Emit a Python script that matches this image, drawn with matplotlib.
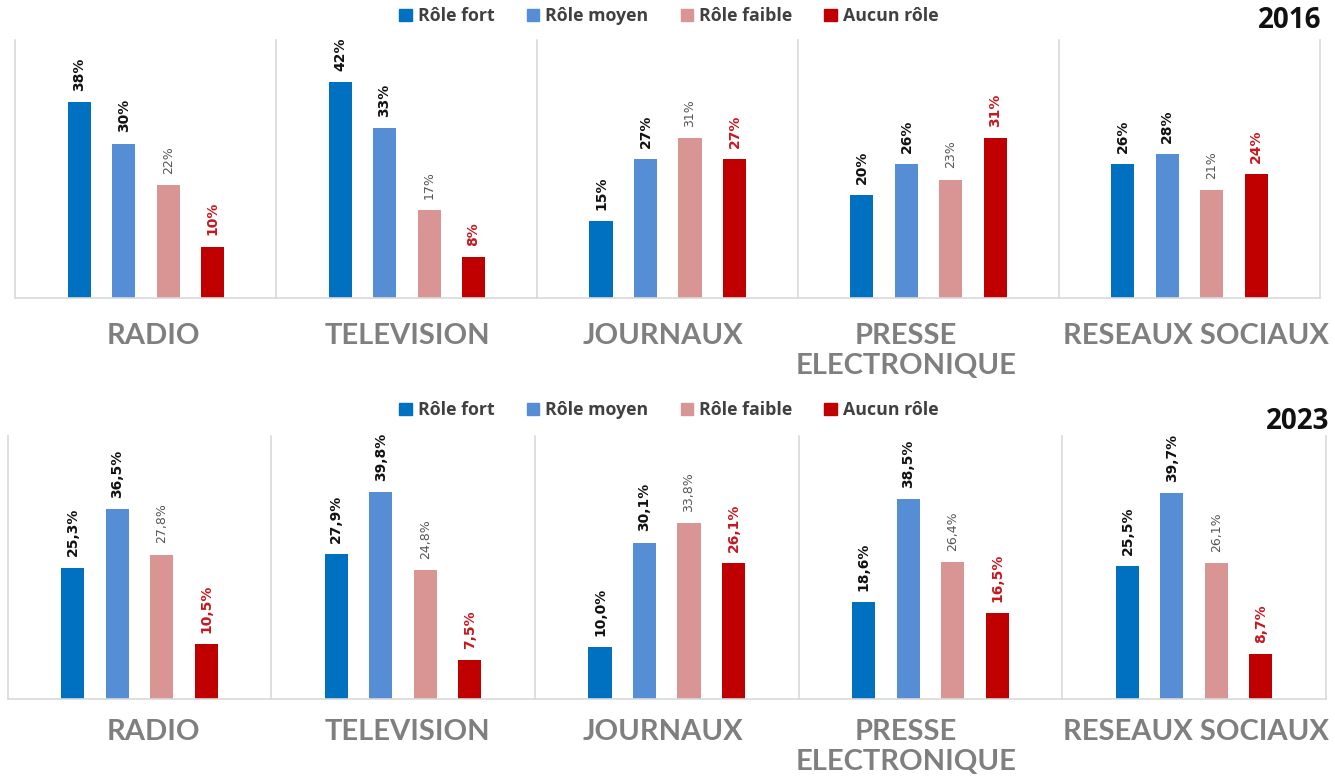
import matplotlib
matplotlib.use("Agg")
import matplotlib.pyplot as plt
from matplotlib import font_manager
from matplotlib.patches import Patch

# Données
categories = ["RADIO", "TELEVISION", "JOURNAUX", "PRESSE\nELECTRONIQUE", "RESEAUX SOCIAUX"]
roles = ["Rôle fort", "Rôle moyen", "Rôle faible", "Aucun rôle"]

fort_2016 = [38, 42, 15, 20, 26]
moyen_2016 = [30, 33, 27, 26, 28]
faible_2016 = [22, 17, 31, 23, 21]
aucun_2016 = [10, 8, 27, 31, 24]

fort_2023 = [25.3, 27.9, 10.0, 18.6, 25.5]
moyen_2023 = [36.5, 39.8, 30.1, 38.5, 39.7]
faible_2023 = [27.8, 24.8, 33.8, 26.4, 26.1]
aucun_2023 = [10.5, 7.5, 26.1, 16.5, 8.7]

colors = ["#0070C0", "#558ED5", "#D99594", "#C00000"]
label_colors = ["#111111", "#111111", "#555555", "#C8171E"]

W, H = 1335, 776
# centre horizontal (px) des noms de catégories, comme dans l'original
label_x = [153, 407, 663, 906, 1196]

installed = {f.name for f in font_manager.fontManager.ttflist}
narrow = "Liberation Sans Narrow" if "Liberation Sans Narrow" in installed else "DejaVu Sans"


def fmt_2016(v):
    return f"{v:.0f}%"


def fmt_2023(v):
    return f"{v:.1f}%".replace(".", ",")


def draw_year(fig, series, year, fmt, left, right, top, bottom, legend_y, label_top,
              year_x, year_y, ymax):
    pw = (right - left) / len(categories)
    spacing = 44.5
    half = pw / spacing / 2
    for i, cat in enumerate(categories):
        ax = fig.add_axes([(left + i * pw) / W, 1 - bottom / H, pw / W, (bottom - top) / H])
        vals = [s[i] for s in series]
        bars = ax.bar(range(4), vals, width=0.52, color=colors)
        for j, (b, v) in enumerate(zip(bars, vals)):
            faible = j == 2
            ax.annotate(fmt(v), (b.get_x() + b.get_width() / 2, v), xytext=(0, 8),
                        textcoords="offset points", rotation=90, ha="center", va="bottom",
                        fontsize=9 if faible else 10, fontweight="normal" if faible else "bold",
                        family=narrow, color=label_colors[j])
        ax.set_xlim(1.5 - half, 1.5 + half)
        ax.set_ylim(0, ymax)
        ax.set_xticks([])
        ax.set_yticks([])
        ax.spines["top"].set_visible(False)
        ax.spines["right"].set_visible(i == len(categories) - 1)
        for s in ["left", "right", "bottom"]:
            ax.spines[s].set_color("#d9d9d9")
            ax.spines[s].set_linewidth(1.2)
        fig.text(label_x[i] / W, 1 - label_top / H, cat, ha="center", va="top",
                 fontsize=21, fontweight="bold", family="Lato", color="#7f7f7f")

    handles = [Patch(color=c) for c in colors]
    fig.legend(handles, roles, loc="center", bbox_to_anchor=(669 / W, 1 - legend_y / H), ncol=4,
               frameon=False, handlelength=0.7, handleheight=0.7, handletextpad=0.35,
               columnspacing=1.8, labelcolor="#404040",
               prop={"family": "Open Sans", "weight": "bold", "size": 12.8})
    fig.text(year_x / W, 1 - year_y / H, year, ha="right", va="center", fontsize=20,
             fontweight="bold", family="Open Sans", color="#111111")


fig = plt.figure(figsize=(W / 100, H / 100), dpi=100)

draw_year(fig, [fort_2016, moyen_2016, faible_2016, aucun_2016], "2016", fmt_2016,
          15.5, 1320, 40, 298, 16, 323, 1321, 21, 50.1)
draw_year(fig, [fort_2023, moyen_2023, faible_2023, aucun_2023], "2023", fmt_2023,
          7.6, 1326, 436, 699, 410, 719, 1329, 422, 50.6)

fig.savefig("out.png", dpi=100)
